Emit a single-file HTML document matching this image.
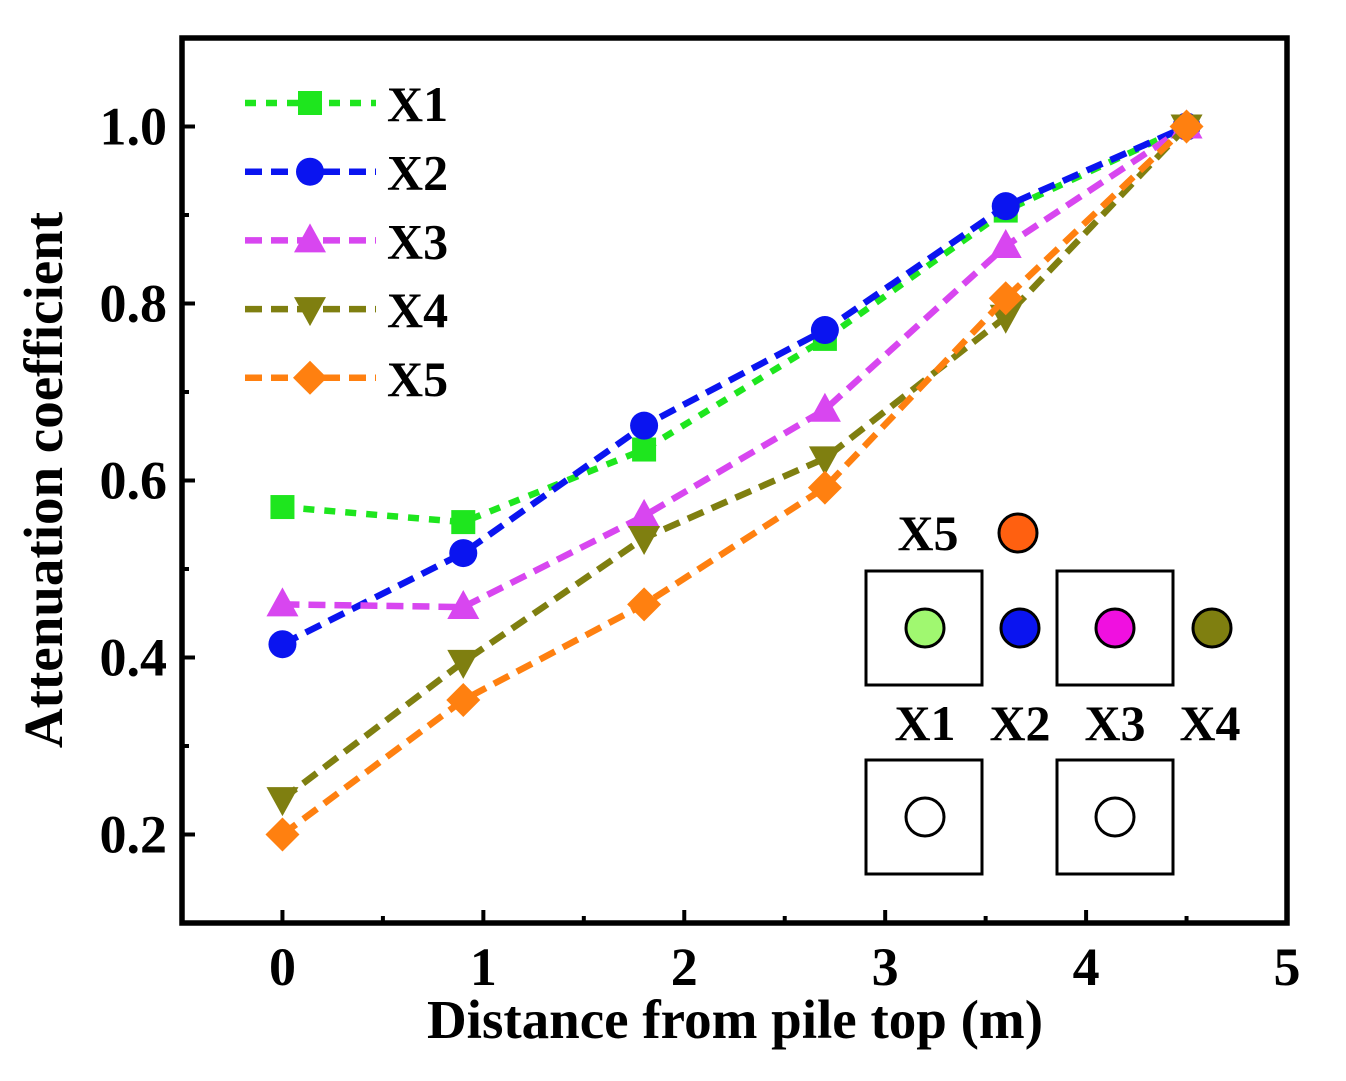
<!DOCTYPE html>
<html><head><meta charset="utf-8"><style>
html,body{margin:0;padding:0;background:#fff}
svg{display:block}
text{font-family:"Liberation Serif",serif;font-weight:bold;fill:#000}
</style></head><body>
<svg id="chart" width="1346" height="1081" viewBox="0 0 1346 1081">
<g id="plot"></g>
</svg>
<script>
const xValues=[0,0.9,1.8,2.7,3.6,4.5];
const seriesNames=["X1","X2","X3","X4","X5"];
const x1Values=[0.57,0.553,0.635,0.76,0.905,1.0];
const x2Values=[0.415,0.518,0.662,0.77,0.91,1.0];
const x3Values=[0.46,0.457,0.56,0.68,0.865,1.0];
const x4Values=[0.24,0.395,0.535,0.625,0.785,1.0];
const x5Values=[0.2,0.352,0.46,0.592,0.806,1.0];
const xTicks=[0,1,2,3,4,5];
const yTicks=[0.2,0.4,0.6,0.8,1.0];

const L=182,R=1287,T=38,B=923;
const xMin=-0.5,xMax=5,yMin=0.1,yMax=1.1;
const sx=v=>L+(v-xMin)/(xMax-xMin)*(R-L);
const sy=v=>B-(v-yMin)/(yMax-yMin)*(B-T);
const NS="http://www.w3.org/2000/svg";
const g=document.getElementById('plot');
function mk(tag,attrs,parent){const e=document.createElementNS(NS,tag);for(const k in attrs)e.setAttribute(k,attrs[k]);(parent||g).appendChild(e);return e;}

const styles=[
 {color:"#1ee61e",marker:"square",dash:"11 10"},
 {color:"#0a14f0",marker:"circle",dash:"17 9"},
 {color:"#d846f0",marker:"up",dash:"17 9"},
 {color:"#7f7f10",marker:"down",dash:"17 9"},
 {color:"#ff8010",marker:"diamond",dash:"17 9"}
];
const allSeries=[x1Values,x2Values,x3Values,x4Values,x5Values];

function marker(type,x,y,color,parent){
 let e;
 if(type==="square") e=mk('rect',{x:x-12,y:y-12,width:24,height:24,fill:color},parent);
 else if(type==="circle") e=mk('circle',{cx:x,cy:y,r:14,fill:color},parent);
 else if(type==="up") e=mk('polygon',{points:`${x},${y-17} ${x+16},${y+12} ${x-16},${y+12}`,fill:color},parent);
 else if(type==="down") e=mk('polygon',{points:`${x},${y+17} ${x+16},${y-12} ${x-16},${y-12}`,fill:color},parent);
 else e=mk('polygon',{points:`${x},${y-17} ${x+17},${y} ${x},${y+17} ${x-17},${y}`,fill:color},parent);
 return e;
}

const frame=mk('rect',{x:L,y:T,width:R-L,height:B-T,fill:"none",stroke:"#000","stroke-width":5.5});



xTicks.forEach(t=>{
 const x=sx(t);
 const tk=mk('line',{x1:x,y1:B,x2:x,y2:B-13,stroke:"#000","stroke-width":4});
 
 
 const lb=mk('text',{x:x,y:985,"text-anchor":"middle","font-size":54});
 lb.textContent=t;
 
 
 if(t<5){const m=mk('line',{x1:sx(t+0.5),y1:B,x2:sx(t+0.5),y2:B-7,stroke:"#000","stroke-width":4});
 
 }
});
yTicks.forEach(t=>{
 const y=sy(t);
 const tk=mk('line',{x1:L,y1:y,x2:L+13,y2:y,stroke:"#000","stroke-width":4});
 
 
 const lb=mk('text',{x:167,y:y+18,"text-anchor":"end","font-size":54});
 lb.textContent=t.toFixed(1);
 
 
 const m=mk('line',{x1:L,y1:sy(t-0.1),x2:L+7,y2:sy(t-0.1),stroke:"#000","stroke-width":4});
 
 
});
const m2=mk('line',{x1:L,y1:sy(0.9),x2:L+7,y2:sy(0.9),stroke:"#000","stroke-width":4});



const xt=mk('text',{x:735,y:1038,"text-anchor":"middle","font-size":55});
xt.textContent="Distance from pile top (m)";


const yt=mk('text',{x:0,y:0,"text-anchor":"middle","font-size":55,transform:"translate(62,480) rotate(-90)"});
yt.textContent="Attenuation coefficient";



allSeries.forEach((vals,i)=>{
 const s=styles[i];
 const grp=mk('g',{});
 
 
 const pts=vals.map((v,j)=>sx(xValues[j])+","+sy(v)).join(" ");
 const pl=mk('polyline',{points:pts,fill:"none",stroke:s.color,"stroke-width":6.5,"stroke-dasharray":s.dash},grp);
 
 
 vals.forEach((v,j)=>{
  const mm=marker(s.marker,sx(xValues[j]),sy(v),s.color,grp);
  
  
 });
 const ly=103+i*68.7;
 const lg=mk('g',{});
 
 
 mk('line',{x1:245,y1:ly,x2:376,y2:ly,stroke:s.color,"stroke-width":6.5,"stroke-dasharray":s.dash},lg);
 marker(s.marker,310,ly,s.color,lg);
 const lt=mk('text',{x:387,y:ly+18,"font-size":50},lg);
 lt.textContent=seriesNames[i];
});

const ins=mk('g',{});


[[866,571],[1057,571],[866,760],[1057,760]].forEach(p=>{
 const r=mk('rect',{x:p[0],y:p[1],width:116,height:114,fill:"none",stroke:"#000","stroke-width":3},ins);
 
 
});
[[925,628,"#a0f870"],[1020,628,"#0a14f0"],[1115,628,"#f010e0"],[1212,628,"#7f7f10"],[1018,533,"#ff6010"],[925,817,"#fff"],[1115,817,"#fff"]].forEach(c=>{
 const e=mk('circle',{cx:c[0],cy:c[1],r:19,fill:c[2],stroke:"#000","stroke-width":3},ins);
 
 
});
[["X5",928,550],["X1",925,740],["X2",1020,740],["X3",1115,740],["X4",1210,740]].forEach(t=>{
 const e=mk('text',{x:t[1],y:t[2],"text-anchor":"middle","font-size":50},ins);
 e.textContent=t[0];
 
 
});
</script>
</body></html>
